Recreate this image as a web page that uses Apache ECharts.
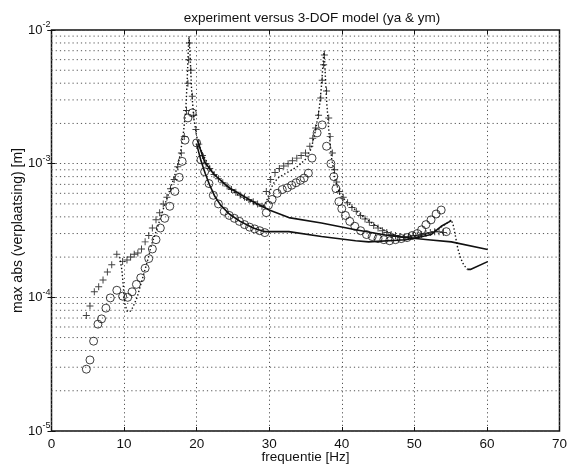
<!DOCTYPE html>
<html>
<head>
<meta charset="utf-8">
<script src="https://cdn.jsdelivr.net/npm/echarts@6/dist/echarts.min.js"></script>
<style>
html,body{margin:0;padding:0;background:#fff;}
#chart{width:570px;height:469px;}
</style>
</head>
<body>
<div id="chart"></div>
<script>
// x ticks and y decades
const xTicks = [0, 10, 20, 30, 40, 50, 60, 70];
const yDecades = [-5, -4, -3, -2];
const minorMultipliers = [2, 3, 4, 5, 6, 7, 8, 9];

// measured ya ('+')
const yaMeasured = [
  [4.8,7.3e-5],[5.3,8.6e-5],[5.9,1.1e-4],[6.5,1.2e-4],[7.1,1.35e-4],[7.7,1.55e-4],[8.3,1.75e-4],[9.0,2.1e-4],
  [9.8,1.85e-4],[10.4,1.9e-4],[10.9,2.0e-4],[11.4,2.1e-4],[11.9,2.15e-4],[12.4,2.3e-4],[12.9,2.6e-4],[13.4,2.9e-4],
  [13.9,3.3e-4],[14.4,3.8e-4],[14.9,4.3e-4],[15.4,5.0e-4],[15.9,5.6e-4],[16.4,6.5e-4],[16.9,7.6e-4],[17.4,9.5e-4],
  [17.9,1.2e-3],[18.3,1.6e-3],[18.6,2.5e-3],[18.8,4e-3],[18.9,6e-3],[19.0,8e-3],
  [19.2,5e-3],[19.4,3.2e-3],[19.6,2.3e-3],[19.9,1.8e-3],[20.3,1.4e-3],[20.8,1.15e-3],[21.3,1.0e-3],[21.8,9.2e-4],
  [22.4,8.3e-4],[23.0,7.7e-4],[23.6,7.2e-4],[24.2,6.8e-4],[24.8,6.4e-4],[25.4,6.1e-4],[26.0,5.8e-4],[26.6,5.6e-4],
  [27.2,5.4e-4],[27.8,5.2e-4],[28.4,5.0e-4],[29.0,4.8e-4],
  [29.6,6.2e-4],[30.2,7.6e-4],[30.8,8.6e-4],[31.4,9.2e-4],[32.0,9.6e-4],[32.6,1.0e-3],[33.2,1.05e-3],[33.8,1.1e-3],
  [34.4,1.15e-3],[35.0,1.2e-3],[35.6,1.35e-3],[36.0,1.55e-3],[36.4,1.85e-3],[36.8,2.3e-3],[37.1,3.1e-3],[37.3,4.2e-3],
  [37.5,5.5e-3],[37.6,6.5e-3],
  [37.9,3.5e-3],[38.2,2.2e-3],[38.4,1.6e-3],[38.7,1.2e-3],[39.0,9e-4],[39.3,7.3e-4],[39.7,6.2e-4],[40.2,5.6e-4],
  [40.8,5.1e-4],[41.4,4.7e-4],[42.0,4.4e-4],[42.6,4.1e-4],[43.2,3.85e-4],[43.8,3.65e-4],[44.4,3.45e-4],[45.0,3.3e-4],
  [45.6,3.15e-4],[46.2,3.05e-4],[46.8,2.95e-4],[47.4,2.9e-4],[48.0,2.85e-4],[48.6,2.8e-4],[49.2,2.85e-4],[49.8,2.9e-4],
  [50.4,2.9e-4],[51.0,2.95e-4],[51.6,3.0e-4],[52.2,3.05e-4],[52.8,3.1e-4],[53.4,3.1e-4],[54.0,3.05e-4]
];

// measured ym ('o')
const ymMeasured = [
  [4.8,2.9e-5],[5.3,3.4e-5],[5.8,4.7e-5],[6.4,6.3e-5],[6.9,6.9e-5],[7.5,8.3e-5],[8.1,9.9e-5],[9.0,1.13e-4],
  [9.8,1.02e-4],[10.5,1.0e-4],[11.1,1.1e-4],[11.7,1.25e-4],[12.3,1.4e-4],[12.9,1.65e-4],[13.4,1.95e-4],[13.9,2.3e-4],
  [14.4,2.7e-4],[15.0,3.3e-4],[15.6,3.9e-4],[16.3,4.8e-4],[17.0,6.2e-4],[17.6,7.9e-4],[18.0,1.04e-3],[18.4,1.5e-3],
  [18.8,2.2e-3],
  [19.4,2.4e-3],[20.0,1.43e-3],[20.6,1.07e-3],[21.1,8.7e-4],[21.7,7.1e-4],[22.3,5.8e-4],[23.0,5.0e-4],[23.8,4.4e-4],
  [24.5,4.1e-4],[25.2,3.9e-4],[25.9,3.7e-4],[26.6,3.5e-4],[27.3,3.35e-4],[28.0,3.25e-4],[28.7,3.15e-4],[29.4,3.05e-4],
  [29.6,4.3e-4],[29.9,4.9e-4],[30.4,5.4e-4],[31.1,6.0e-4],[31.8,6.4e-4],[32.5,6.6e-4],[33.1,6.9e-4],[33.7,7.2e-4],
  [34.3,7.5e-4],[34.8,7.8e-4],[35.4,8.5e-4],[35.9,1.1e-3],[36.6,1.7e-3],[37.3,1.95e-3],[37.9,1.35e-3],[38.5,1.0e-3],
  [38.9,8e-4],[39.2,6.5e-4],[39.6,5.2e-4],[40.0,4.6e-4],[40.5,4.1e-4],[41.1,3.7e-4],[41.8,3.4e-4],[42.6,3.15e-4],
  [43.4,2.95e-4],[44.2,2.85e-4],[45.0,2.75e-4],[45.8,2.7e-4],[46.6,2.65e-4],[47.4,2.7e-4],[48.2,2.75e-4],[49.0,2.8e-4],
  [49.7,2.9e-4],[50.4,3.0e-4],[51.0,3.2e-4],[51.6,3.5e-4],[52.3,3.8e-4],[53.0,4.2e-4],[53.7,4.5e-4],[54.4,3.1e-4]
];

// finely sampled curve (dotted)
const dottedCurve = [
  [9.4,2.0e-4],[9.7,1.6e-4],[9.9,1.2e-4],[10.1,9.0e-5],[10.4,7.9e-5],[10.8,7.8e-5],[11.2,8.4e-5],[11.8,1.0e-4],
  [12.5,1.36e-4],[13.2,1.85e-4],[13.8,2.5e-4],[14.5,3.2e-4],[15.3,4.4e-4],[16.1,5.9e-4],[16.9,7.9e-4],[17.6,1.07e-3],
  [18.1,1.56e-3],[18.5,2.5e-3],[18.7,4.2e-3],[18.85,7.1e-3],[18.95,9.0e-3],[19.1,6.5e-3],[19.3,3.6e-3],[19.6,2.2e-3],
  [20.0,1.6e-3],[20.5,1.3e-3],[21.2,1.08e-3],[22,9.0e-4],[23,7.8e-4],[24,6.9e-4],[25,6.2e-4],[26,5.7e-4],[27,5.3e-4],
  [28,5.0e-4],[29,4.8e-4],[29.5,5e-4],[30.0,6.0e-4],[30.5,7.0e-4],[31.2,7.8e-4],[32,8.3e-4],[33,8.9e-4],[34,9.6e-4],
  [35,1.08e-3],[35.8,1.3e-3],[36.4,1.8e-3],[36.9,2.6e-3],[37.2,3.8e-3],[37.4,5.5e-3],[37.55,7.0e-3],[37.7,5.0e-3],
  [37.9,3.0e-3],[38.2,1.8e-3],[38.6,1.1e-3],[39.1,7.5e-4],[39.7,6.0e-4],[40.5,5.3e-4],[41.5,4.7e-4],[42.5,4.2e-4],
  [43.5,3.8e-4],[44.5,3.5e-4],[45.5,3.25e-4],[46.5,3.05e-4],[47.5,2.9e-4],[48.5,2.8e-4],[49.5,2.8e-4],[50.5,2.85e-4],
  [51.5,2.95e-4],[52.5,3.1e-4],[53.5,3.3e-4],[54.5,3.6e-4],[55.1,3.8e-4],[55.4,3.4e-4],[55.7,2.8e-4],[56.0,2.3e-4],
  [56.4,1.95e-4],[56.8,1.75e-4],[57.3,1.62e-4]
];

// model curves (solid)
const modelUpper = [
  [20.1,1.5e-3],[21.1,1.03e-3],[22.4,8.3e-4],[24.5,6.6e-4],[27.2,5.4e-4],[30.0,4.5e-4],[32.7,3.95e-4],[37.2,3.6e-4],
  [41.9,3.2e-4],[46.4,2.9e-4],[48.8,2.8e-4],[51.9,2.7e-4],[55.1,2.6e-4],[60.1,2.28e-4]
];
const modelLower = [
  [20.0,1.4e-3],[20.6,1.05e-3],[21.2,8.4e-4],[21.8,6.9e-4],[22.5,5.7e-4],[23.3,4.9e-4],[24.5,4.2e-4],[26.0,3.7e-4],
  [27.8,3.3e-4],[29.4,3.1e-4],[32.7,3.1e-4],[37.2,2.85e-4],[41.9,2.65e-4],[43.7,2.6e-4],[48.8,2.7e-4],[50.5,2.8e-4],
  [52.3,2.95e-4],[53.7,3.4e-4],[55.1,3.75e-4]
];
const modelTail = [[57.3,1.62e-4],[57.8,1.62e-4],[60.1,1.85e-4]];

const minorValues = [];
yDecades.slice(0, -1).forEach(e => minorMultipliers.forEach(m => minorValues.push(m * Math.pow(10, e))));

const ink = '#111';
const gridDots = {color: '#555', width: 1, type: [1.2, 3]};
const plusPath = 'path://M4.3,0h1.4v4.3h4.3v1.4h-4.3v4.3h-1.4v-4.3h-4.3v-1.4h4.3z';
const font = 'Liberation Sans, Arial, sans-serif';

const minorGridSeries = minorValues.map(v => ({
  type: 'line', silent: true, symbol: 'none', z: 1,
  data: [[xTicks[0], v], [xTicks[xTicks.length - 1], v]],
  lineStyle: gridDots
}));

const chart = echarts.init(document.getElementById('chart'));
chart.setOption({
  animation: false,
  backgroundColor: '#fff',
  title: {
    text: 'experiment versus 3-DOF model (ya & ym)',
    left: 307, top: 6, textAlign: 'center',
    textStyle: {fontSize: 13.5, fontWeight: 'normal', color: ink, fontFamily: font}
  },
  grid: {left: 51.5, right: 7.5, top: 30, bottom: 37, show: true, borderColor: ink, borderWidth: 1.5},
  xAxis: [{
    type: 'value', min: xTicks[0], max: xTicks[xTicks.length - 1], interval: 10,
    axisLine: {show: false},
    axisTick: {inside: true, length: 4, lineStyle: {color: ink}},
    axisLabel: {fontSize: 13.5, color: ink, margin: 6, fontFamily: font},
    splitLine: {show: true, lineStyle: gridDots},
    name: 'frequentie [Hz]', nameLocation: 'middle', nameGap: 19, nameMoveOverlap: false,
    nameTextStyle: {fontSize: 13.5, color: ink, fontFamily: font}
  }, {
    type: 'value', position: 'top', min: 0, max: 70, interval: 10,
    axisLine: {show: false}, axisTick: {inside: true, length: 4, lineStyle: {color: ink}},
    axisLabel: {show: false}, splitLine: {show: false}
  }],
  yAxis: [{
    type: 'log', logBase: 10, min: Math.pow(10, yDecades[0]), max: Math.pow(10, yDecades[yDecades.length - 1]),
    axisLine: {show: false},
    axisTick: {inside: true, length: 4, lineStyle: {color: ink}},
    axisLabel: {
      margin: 1, color: ink, fontFamily: font,
      formatter: v => '{b|10}{s|' + Math.round(Math.log10(v)) + '}',
      rich: {b: {fontSize: 13, fontFamily: font, color: ink}, s: {fontSize: 9, fontFamily: font, color: ink, padding: [0, 0, 10, 0]}}
    },
    splitLine: {show: true, lineStyle: gridDots},
    name: 'max abs (verplaatsing) [m]', nameLocation: 'middle', nameGap: 26, nameMoveOverlap: false,
    nameTextStyle: {fontSize: 14, color: ink, fontFamily: font}
  }, {
    type: 'log', logBase: 10, min: 1e-5, max: 1e-2, position: 'right',
    axisLine: {show: false}, axisTick: {inside: true, length: 4, lineStyle: {color: ink}},
    axisLabel: {show: false}, splitLine: {show: false}
  }],
  series: minorGridSeries.concat([
    {type: 'line', data: modelUpper, symbol: 'none', lineStyle: {color: ink, width: 1.6}, z: 3},
    {type: 'line', data: modelLower, symbol: 'none', lineStyle: {color: ink, width: 1.6}, z: 3},
    {type: 'line', data: modelTail, symbol: 'none', lineStyle: {color: ink, width: 1.6}, z: 3},
    {type: 'line', data: dottedCurve, symbol: 'none', lineStyle: {color: ink, width: 1.4, type: [1.4, 2.2]}, z: 3},
    {
      type: 'scatter', data: yaMeasured, symbol: plusPath, symbolSize: 7,
      itemStyle: {color: ink}, z: 4
    },
    {
      type: 'scatter', data: ymMeasured, symbol: 'circle', symbolSize: 8,
      itemStyle: {color: 'rgba(0,0,0,0)', borderColor: ink, borderWidth: 1}, z: 4
    }
  ])
});
</script>
</body>
</html>
